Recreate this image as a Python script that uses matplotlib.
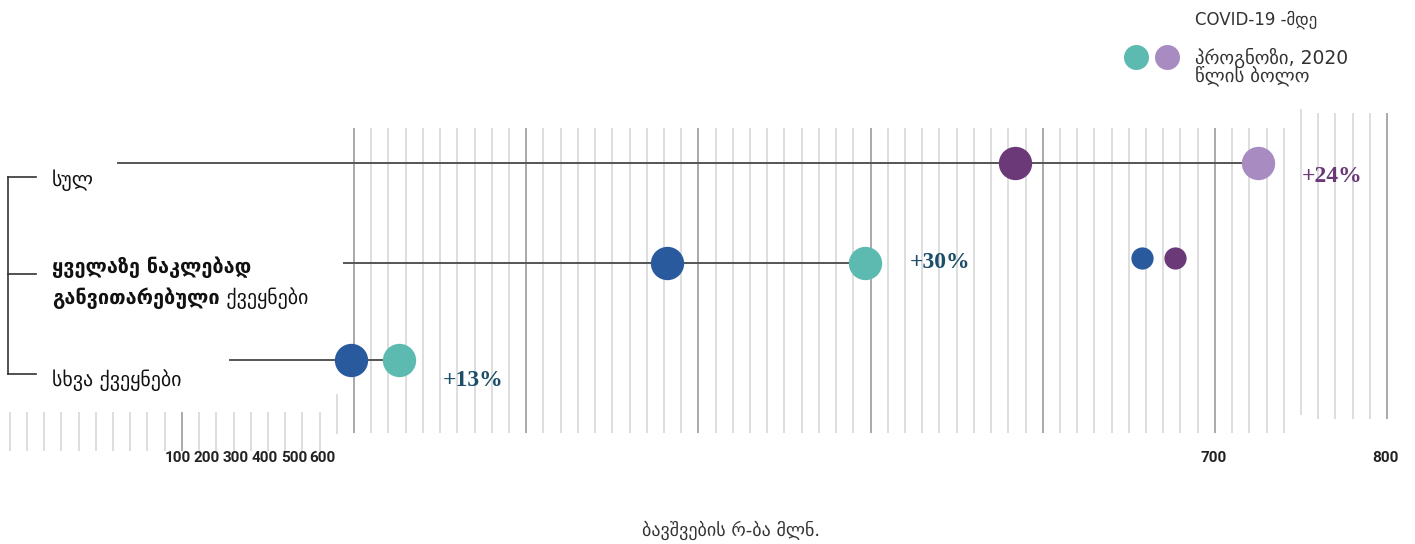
import numpy as np
import matplotlib
matplotlib.use("Agg")
import matplotlib.pyplot as plt

# ---------------- data ----------------
categories = ["სულ", "ყველაზე ნაკლებად განვითარებული ქვეყნები", "სხვა ქვეყნები"]
pre_covid = [584, 382, 198]        # COVID-19 -მდე
forecast = [725, 497, 226]         # პროგნოზი, 2020 წლის ბოლო
line_start = [63, 194, 128]
pct_labels = ["+24%", "+30%", "+13%"]
tick_labels_left = ["100", "200", "300", "400", "500", "600"]
tick_labels_right = ["700", "800"]
right_tick_values = [700, 800]
legend_pre = "COVID-19 -მდე"
legend_fc = "პროგნოზი, 2020\nწლის ბოლო"
xlabel = "ბავშვების რ-ბა მლნ."

# colours
pre_colors = ["#6B3878", "#2A5A9E", "#2A5A9E"]
fc_colors = ["#A88BC1", "#5DBAB0", "#5DBAB0"]
pct_colors = ["#6B3878", "#1C4E6A", "#1C4E6A"]

# ---------------- layout helpers ----------------
W, H = 1415, 544
X0, SCALE = 9.7, 1.7217   # pixel of value 0, pixels per unit


def px2v(px):
    return (px - X0) / SCALE


fig = plt.figure(figsize=(W / 100, H / 100), dpi=100)
ax = fig.add_axes([0, 0, 1, 1])
ax.set_xlim(px2v(0), px2v(W))
ax.set_ylim(H, 0)
ax.axis("off")

# grid lines (vertical), broken into groups
for v in range(0, 801, 10):
    if v <= 180:
        y0, y1 = 412, 451
    elif v == 190:
        y0, y1 = 394, 434
    elif v <= 740:
        y0, y1 = 128, 433
    elif v == 750:
        y0, y1 = 109, 415
    else:
        y0, y1 = 113, 419
    dark = (v % 100 == 0) and v > 0
    ax.plot([v, v], [y0, y1], color="#A3A3A3" if dark else "#D8D8D8",
            lw=1.3 if dark else 1.2, zorder=1, solid_capstyle="butt")

row_y = [163, 263, 360]
pct_dy = [13, 0, 20]
for i in range(3):
    y = row_y[i]
    ax.plot([line_start[i], forecast[i]], [y, y], color="#555555", lw=1.4, zorder=2)
    ax.plot(pre_covid[i], y, "o", ms=24, color=pre_colors[i], mec="none", zorder=3)
    ax.plot(forecast[i], y, "o", ms=24, color=fc_colors[i], mec="none", zorder=3)
    ax.text(forecast[i] + px2v(44) - px2v(0), y + pct_dy[i], pct_labels[i],
            color=pct_colors[i], fontsize=17, fontweight="bold",
            family=["Liberation Serif", "DejaVu Serif"], va="center", ha="left", zorder=4)

# category labels
lab_kw = dict(fontsize=14.3, va="center", ha="left", color="#111111", family=["DejaVu Sans"])
ax.text(px2v(52), 180, categories[0], **lab_kw)
w = categories[1].split(" ")
ax.text(px2v(52), 267, " ".join(w[:2]), fontweight="bold", **lab_kw)
t2 = ax.text(px2v(52), 298, w[2], fontweight="bold", **lab_kw)
ax.annotate(" " + w[3], xy=(1, 0.5), xycoords=t2, fontsize=14.3, va="center", ha="left",
            color="#111111", family=["DejaVu Sans"])
ax.text(px2v(52), 380, categories[2], **lab_kw)

# bracket at left
bx = px2v(8)
ax.plot([bx, bx], [177, 374], color="#333333", lw=1.2)
for yy in [177, 274, 374]:
    ax.plot([bx, px2v(36)], [yy, yy], color="#333333", lw=1.2)

# stray small dots next to LDC row
ax.plot(px2v(1142), 258, "o", ms=16, color=pre_colors[1], mec="none", zorder=3)
ax.plot(px2v(1175), 258, "o", ms=16, color=pre_colors[0], mec="none", zorder=3)

# tick labels
left_px = [178, 207, 236, 265, 294, 322]
for lab, p in zip(tick_labels_left, left_px):
    ax.text(px2v(p), 458, lab, ha="center", va="center", fontsize=11,
            fontweight="bold", color="#222222", family=["Roboto", "DejaVu Sans"])
for lab, v in zip(tick_labels_right, right_tick_values):
    ax.text(v - 1, 458, lab, ha="center", va="center", fontsize=11,
            fontweight="bold", color="#222222", family=["Roboto", "DejaVu Sans"])

# legend
ax.text(px2v(1195), 20, legend_pre, fontsize=12, color="#333333", va="center", ha="left")
ax.plot(px2v(1136), 57, "o", ms=18, color=fc_colors[1], mec="none")
ax.plot(px2v(1167), 57, "o", ms=18, color=fc_colors[0], mec="none")
ax.text(px2v(1195), 67, legend_fc, fontsize=13.5, color="#333333", va="center", ha="left",
        linespacing=0.85)

# x label
ax.text(px2v(731), 530, xlabel, fontsize=13, color="#333333", ha="center", va="center")

fig.savefig("out.png", dpi=100, facecolor="white")
